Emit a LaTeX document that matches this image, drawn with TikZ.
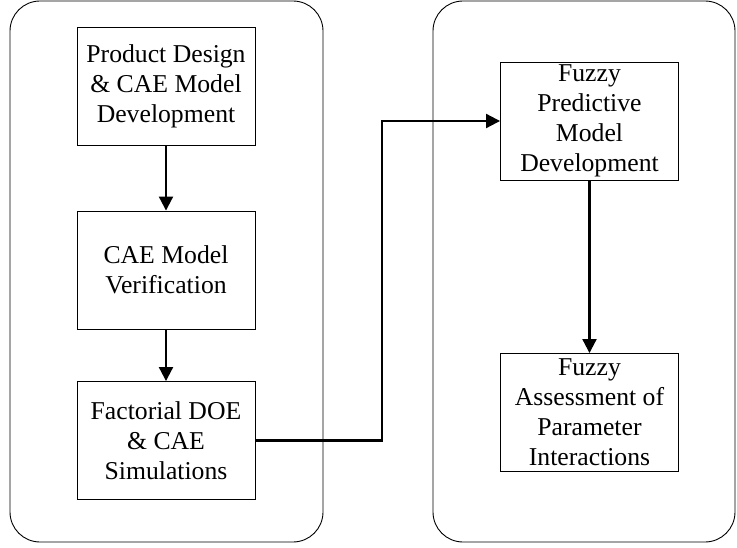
\documentclass[tikz,border=0pt]{standalone}
\usepackage{fontspec}
\setmainfont{Liberation Serif}
\usetikzlibrary{arrows.meta}
\begin{document}
\begin{tikzpicture}[x=1pt,y=-1pt,
  stage/.style={draw, line width=0.9pt, rounded corners=30pt},
  stepbox/.style={draw, line width=0.9pt, rectangle, inner sep=0pt,
    minimum width=178pt, minimum height=118pt, align=center,
    font=\fontsize{25.7}{30}\selectfont},
  flow/.style={line width=2.1pt, -{Triangle[width=14pt,length=14pt]}}]
\useasboundingbox (0,0) rectangle (737,548);
% two stage panels
\node[stage, minimum width=313pt, minimum height=541pt, inner sep=0pt] (left) at (166.5,271.5) {};
\node[stage, minimum width=302pt, minimum height=541pt, inner sep=0pt] (right) at (584,271.5) {};
% left column
\node[stepbox] (design) at (166,86) {Product Design\\\& CAE Model\\Development};
\node[stepbox] (verify) at (166,270) {CAE Model\\Verification};
\node[stepbox] (doe) at (166,440.5) {Factorial DOE\\\& CAE\\Simulations};
% right column
\node[stepbox] (fuzzy) at (589.5,121) {Fuzzy\\Predictive\\Model\\Development};
\node[stepbox] (assess) at (589.5,412.5) {Fuzzy\\Assessment of\\Parameter\\Interactions};
% connectors
\draw[flow] (design) -- (verify);
\draw[flow] (verify) -- (doe);
\coordinate (turn) at (382,440.5);
\draw[flow] (doe.east) -- (turn) |- (fuzzy.west);
\draw[flow] (fuzzy) -- (assess);
\end{tikzpicture}
\end{document}
